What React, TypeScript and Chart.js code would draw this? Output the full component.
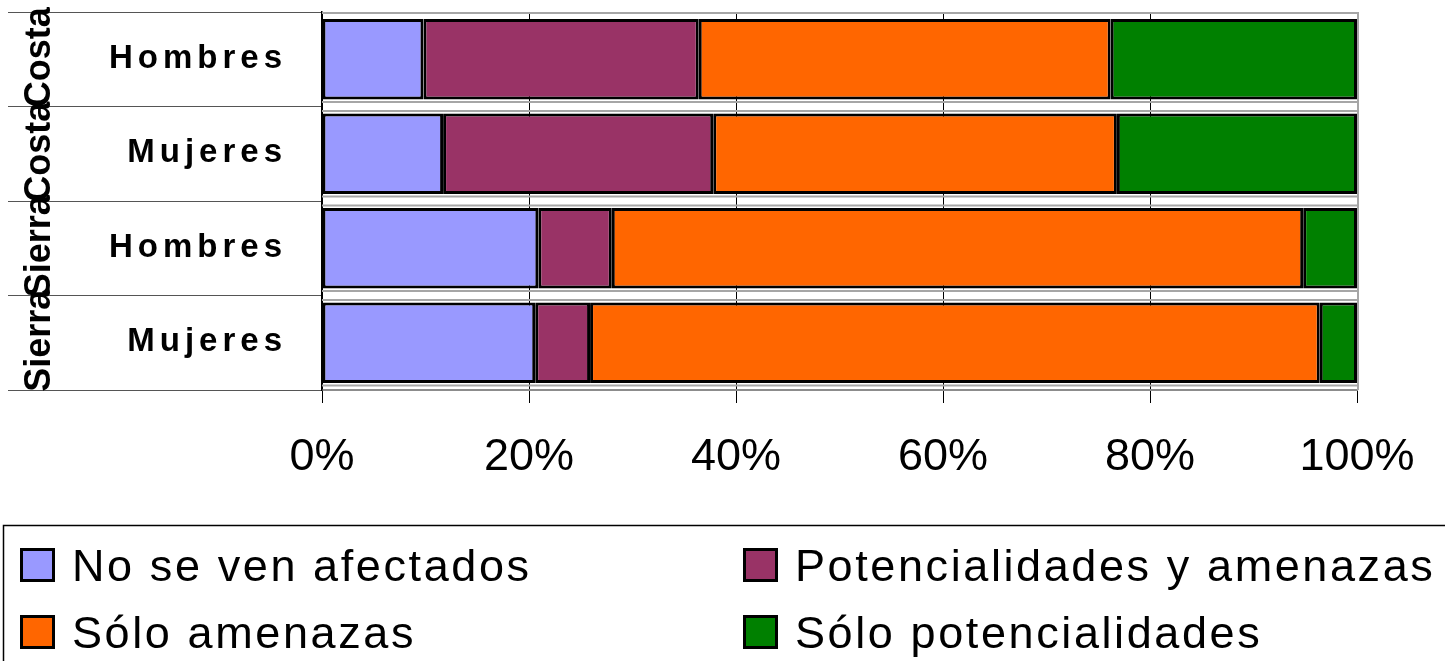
import React, { useEffect, useRef } from "react";
import { Chart, registerables } from "chart.js";

Chart.register(...registerables);

// ---- data ----
const groups = ["Costa", "Costa", "Sierra", "Sierra"];
const subgroups = ["Hombres", "Mujeres", "Hombres", "Mujeres"];
const seriesNames = [
  "No se ven afectados",
  "Potencialidades y amenazas",
  "Sólo amenazas",
  "Sólo potencialidades",
];
const seriesColors = ["#9999FF", "#993366", "#FF6600", "#008000"];
const noAfectados = [9.8, 11.7, 20.9, 20.6];
const potencialidadesYAmenazas = [26.6, 26.1, 7.1, 5.3];
const soloAmenazas = [39.8, 39.0, 66.8, 70.5];
const soloPotencialidades = [23.8, 23.2, 5.2, 3.6];
const xTickValues = [0, 20, 40, 60, 80, 100];

const FONT = "'Liberation Sans', Arial, Helvetica, sans-serif";

const decorPlugin = {
  id: "decor",
  beforeDatasetsDraw(chart: any) {
    const { ctx, chartArea: ca } = chart;
    ctx.save();
    ctx.strokeStyle = "#a6a6a6";
    ctx.lineWidth = 2;
    const line = (x1: number, y1: number, x2: number, y2: number) => {
      ctx.beginPath();
      ctx.moveTo(x1, y1);
      ctx.lineTo(x2, y2);
      ctx.stroke();
    };
    line(ca.left, ca.top + 1, ca.right + 1, ca.top + 1);
    line(ca.right + 1, ca.top, ca.right + 1, ca.bottom);
    const meta = chart.getDatasetMeta(0);
    meta.data.forEach((bar: any, i: number) => {
      const { y, height } = bar.getProps(["y", "height"], true);
      const top = y - height / 2;
      const bottom = y + height / 2;
      if (i > 0) line(ca.left, top - 2.5, ca.right, top - 2.5);
      line(ca.left, bottom + 2.5, ca.right, bottom + 2.5);
    });
    ctx.restore();
  },
  afterDraw(chart: any) {
    const { ctx } = chart;
    const yScale = chart.scales.y;
    ctx.save();
    ctx.fillStyle = "#000";
    // sub-category labels
    ctx.font = `bold 33px ${FONT}`;
    (ctx as any).letterSpacing = "5px";
    ctx.textAlign = "right";
    ctx.textBaseline = "alphabetic";
    subgroups.forEach((s, i) => {
      const cy = yScale.getPixelForValue(i);
      ctx.fillText(s, 282 + 5, cy + 8.5);
    });
    // group labels (rotated)
    (ctx as any).letterSpacing = "0px";
    ctx.font = `bold 36px ${FONT}`;
    ctx.textAlign = "center";
    groups.forEach((g, i) => {
      const cy = yScale.getPixelForValue(i);
      ctx.save();
      ctx.translate(37, cy - 2);
      ctx.rotate(-Math.PI / 2);
      ctx.fillText(g, 0, 13);
      ctx.restore();
    });
    // legend
    ctx.strokeStyle = "#000";
    ctx.lineWidth = 1.5;
    ctx.beginPath();
    ctx.moveTo(3.5, 700);
    ctx.lineTo(3.5, 525.5);
    ctx.lineTo(1460, 525.5);
    ctx.stroke();
    const colX = [20, 743];
    const rowY = [565, 632];
    ctx.font = `45px ${FONT}`;
    (ctx as any).letterSpacing = "2.6px";
    ctx.textAlign = "left";
    chart.data.datasets.forEach((ds: any, i: number) => {
      const sx = colX[i % 2];
      const cy = rowY[Math.floor(i / 2)];
      ctx.fillStyle = ds.backgroundColor;
      ctx.fillRect(sx, cy - 17, 35, 34);
      ctx.lineWidth = 3;
      ctx.strokeStyle = "#000";
      ctx.strokeRect(sx + 1.5, cy - 15.5, 32, 31);
      ctx.fillStyle = "#000";
      ctx.fillText(ds.label, sx + 52, cy + 16);
    });
    ctx.restore();
  },
};

export default function App() {
  const ref = useRef<HTMLCanvasElement | null>(null);
  useEffect(() => {
    if (!ref.current) return;
    const values = [noAfectados, potencialidadesYAmenazas, soloAmenazas, soloPotencialidades];
    const chart = new Chart(ref.current, {
      type: "bar",
      data: {
        labels: subgroups.map((s, i) => `${groups[i]} ${s}`),
        datasets: seriesNames.map((name, k) => ({
          label: name,
          data: values[k],
          backgroundColor: seriesColors[k],
          borderColor: "#000",
          borderWidth: 3,
          borderSkipped: false,
          barPercentage: 0.85,
          categoryPercentage: 1,
        })),
      },
      plugins: [decorPlugin],
      options: {
        indexAxis: "y",
        animation: false,
        responsive: false,
        devicePixelRatio: 1,
        layout: { padding: { top: 12, right: 88, bottom: 136, left: 0 } },
        plugins: {
          legend: { display: false },
          tooltip: { enabled: false },
          title: { display: false },
        },
        scales: {
          x: {
            stacked: true,
            min: 0,
            max: 100,
            afterBuildTicks: (scale: any) => {
              scale.ticks = xTickValues.map((v) => ({ value: v }));
            },
            afterFit: (scale: any) => {
              scale.height = 135;
            },
            grid: {
              color: "#000",
              lineWidth: 1,
              tickLength: 13,
              drawTicks: true,
            },
            border: { display: true, color: "#8c8c8c", width: 2 },
            ticks: {
              autoSkip: false,
              maxRotation: 0,
              minRotation: 0,
              padding: 28,
              color: "#000",
              font: { family: FONT, size: 45 },
              callback: (v: any) => `${v}%`,
            },
          },
          y: {
            stacked: true,
            afterFit: (scale: any) => {
              scale.width = 322;
            },
            grid: {
              offset: true,
              drawOnChartArea: false,
              drawTicks: true,
              tickLength: 314,
              color: "#555",
              lineWidth: 1,
            },
            border: { display: true, color: "#000", width: 1.5 },
            ticks: { display: false },
          },
        },
      } as any,
    });
    return () => chart.destroy();
  }, []);
  return (
    <div style={{ position: "absolute", left: 0, top: 0, width: 1445, height: 661, background: "#fff" }}>
      <canvas ref={ref} width={1445} height={661} style={{ display: "block", width: 1445, height: 661 }} />
    </div>
  );
}
